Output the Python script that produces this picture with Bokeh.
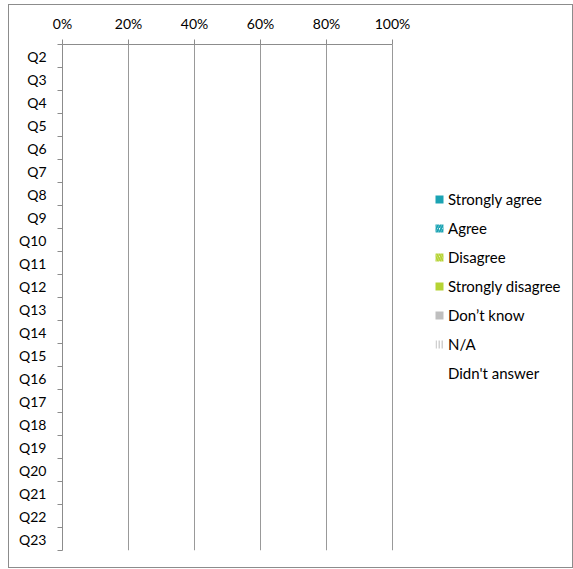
from bokeh.plotting import figure
from bokeh.models import (ColumnDataSource, Range1d, FixedTicker, NumeralTickFormatter,
                          Legend, LegendItem)
from bokeh.transform import stack
from bokeh.embed import file_html
from bokeh.resources import INLINE

categories = ["Q2", "Q3", "Q4", "Q5", "Q6", "Q7", "Q8", "Q9", "Q10", "Q11", "Q12",
              "Q13", "Q14", "Q15", "Q16", "Q17", "Q18", "Q19", "Q20", "Q21", "Q22", "Q23"]
series = ["Strongly agree", "Agree", "Disagree", "Strongly disagree",
          "Don\u2019t know", "N/A", "Didn't answer"]
strongly_agree = [0.0] * 22
agree = [0.0] * 22
disagree = [0.0] * 22
strongly_disagree = [0.0] * 22
dont_know = [0.0] * 22
na = [0.0] * 22
didnt_answer = [0.0] * 22
x_ticks = [0, 0.2, 0.4, 0.6, 0.8, 1.0]

values = [strongly_agree, agree, disagree, strongly_disagree, dont_know, na, didnt_answer]
keys = ["s%d" % i for i in range(len(series))]
n = len(categories)
data = {"y": [n - 1 - i for i in range(n)]}
for k, v in zip(keys, values):
    data[k] = v
source = ColumnDataSource(data)

styles = [
    dict(fill_color="#1BA3B3"),
    dict(fill_color="white", hatch_pattern="/", hatch_color="#1BA3B3", hatch_weight=2, hatch_scale=5),
    dict(fill_color="white", hatch_pattern="\\", hatch_color="#B5D334", hatch_weight=2, hatch_scale=5),
    dict(fill_color="#B5D334"),
    dict(fill_color="#BFBFBF"),
    dict(fill_color="white", hatch_pattern="|", hatch_color="#D0D0D0", hatch_weight=2, hatch_scale=3),
    dict(fill_color="white", fill_alpha=0.0),
]

# layout: figure box 565 x 564, frame from 53 px (left) to 563 px; 100% sits 330 px right of 0%
W, H = 565, 564
left_b, right_b, top_b, bottom_b = 53, 2, 39, 19
frame_w = W - left_b - right_b
pct_px = 330.0
x_end = frame_w / pct_px

p = figure(width=W, height=H, output_backend="svg", toolbar_location=None,
           x_range=Range1d(0, x_end), y_range=Range1d(-0.5, n - 0.5),
           x_axis_location="above",
           min_border_left=left_b, min_border_top=top_b,
           min_border_right=right_b, min_border_bottom=bottom_b)
p.margin = (4, 0, 0, 8)
p.styles = {"border": "1px solid #8c8c8c", "box-sizing": "border-box"}

items = []
for i, (k, name) in enumerate(zip(keys, series)):
    r = p.hbar(y="y", left=stack(*keys[:i]) if i else 0, right=stack(*keys[:i + 1]),
               height=0.6, source=source, line_color=None, **styles[i])
    items.append(LegendItem(label=name, renderers=[r]))

gray = "#8c8c8c"
grid_gray = "#999999"
font = "Lato"

xa = p.xaxis[0]
xa.ticker = FixedTicker(ticks=x_ticks, minor_ticks=[])
xa.bounds = (0, 1)
xa.formatter = NumeralTickFormatter(format="0%")
xa.major_tick_out = 5
xa.major_tick_in = 0
xa.minor_tick_line_color = None
xa.axis_line_color = gray
xa.major_tick_line_color = gray
xa.major_label_text_font = font
xa.major_label_text_font_size = "14px"
xa.major_label_text_color = "black"
xa.major_label_standoff = 8

ya = p.yaxis[0]
ya.ticker = FixedTicker(ticks=list(range(n)), minor_ticks=[i - 0.5 for i in range(n + 1)])
ya.major_label_overrides = {n - 1 - i: c for i, c in enumerate(categories)}
ya.major_tick_line_color = None
ya.major_tick_out = 0
ya.major_tick_in = 0
ya.minor_tick_out = 5
ya.minor_tick_in = 0
ya.minor_tick_line_color = gray
ya.axis_line_color = gray
ya.major_label_text_font = font
ya.major_label_text_font_size = "14px"
ya.major_label_text_color = "black"
ya.major_label_standoff = 11

p.xgrid.grid_line_color = grid_gray
p.xgrid.grid_line_alpha = 1.0
p.ygrid.visible = False
p.outline_line_color = None

legend = Legend(items=items, location=(372, 167), orientation="vertical",
                glyph_width=10, glyph_height=10, label_height=20, spacing=9,
                label_standoff=4, padding=0, margin=0,
                border_line_color=None, background_fill_alpha=0,
                label_text_font=font, label_text_font_size="15px", label_text_color="black")
p.add_layout(legend, "center")

open("out.html", "w").write(file_html(p, INLINE))
